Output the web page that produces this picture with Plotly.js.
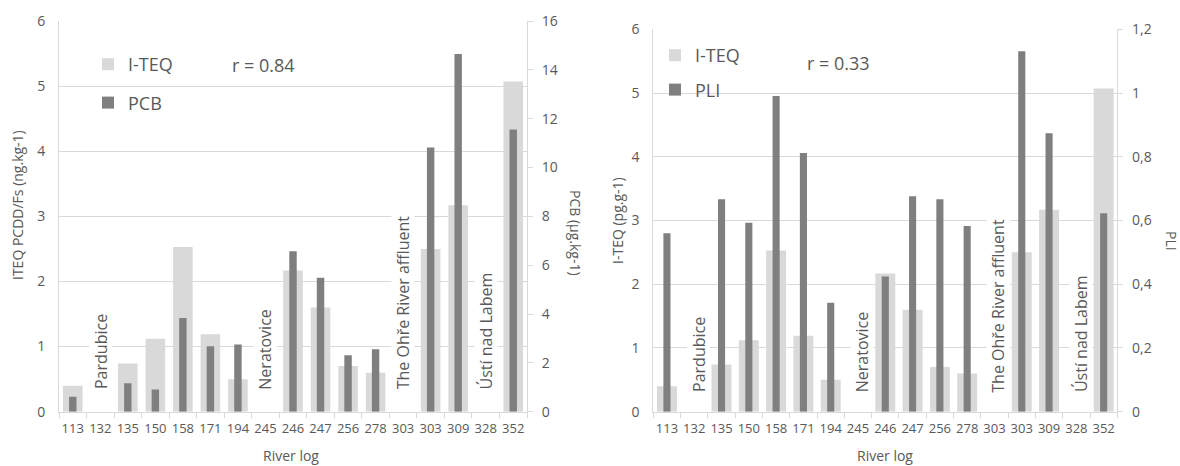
<!DOCTYPE html>
<html><head><meta charset="utf-8">
<script src="https://cdn.plot.ly/plotly-3.0.1.min.js"></script>
<style>html,body{margin:0;padding:0;background:#fff}#chart{width:1180px;height:466px}</style>
</head><body><div id="chart"></div>
<script>
const riverLog = ['113','132','135','150','158','171','194','245','246','247','256','278','303','303','309','328','352'];
const iteq = [0.40,null,0.74,1.12,2.53,1.19,0.50,null,2.17,1.60,0.70,0.60,null,2.50,3.17,null,5.07];
const pcb = [0.61,null,1.16,0.91,3.84,2.68,2.75,null,6.57,5.49,2.31,2.56,null,10.82,14.65,null,11.56];
const pli = [0.56,null,0.667,0.593,0.991,0.812,0.342,null,0.424,0.676,0.667,0.583,null,1.131,0.874,null,0.623];
const siteLabels = ['Pardubice','Neratovice','The Ohře River affluent','Ústí nad Labem'];
const siteIndex = [1,7,12,15];
const rLeft = 'r = 0.84';
const rRight = 'r = 0.33';

const W = 1180, H = 466;
const pos = riverLog.map((_, i) => i);
const bounds = riverLog.map((_, i) => i - 0.5).concat([riverLog.length - 0.5]);
const xr = [-0.5, riverLog.length - 0.5];
const LIGHT = '#d9d9d9', DARK = '#7f7f7f', TXT = '#595959', GRID = '#d9d9d9';
const FONT = 'Open Sans, sans-serif';
const px = v => v / W, py = v => 1 - v / H;

const traces = [
  {type:'bar', x:pos, y:iteq, xaxis:'x', yaxis:'y', width:0.71, marker:{color:LIGHT}, name:'I-TEQ', legend:'legend', legendgroup:'a', hoverinfo:'skip'},
  {type:'bar', x:pos, y:pcb, xaxis:'x2', yaxis:'y2', width:0.27, marker:{color:DARK}, name:'PCB', legend:'legend', legendgroup:'b', hoverinfo:'skip'},
  {type:'bar', x:pos, y:iteq, xaxis:'x3', yaxis:'y3', width:0.73, marker:{color:LIGHT}, name:'I-TEQ', legend:'legend2', legendgroup:'c', hoverinfo:'skip'},
  {type:'bar', x:pos, y:pli, xaxis:'x4', yaxis:'y4', width:0.26, marker:{color:DARK}, name:'PLI', legend:'legend2', legendgroup:'d', hoverinfo:'skip'}
];

const tickF = {family:FONT, size:13, color:TXT};
const yTickF = {family:FONT, size:14, color:TXT};
const baseX = {range:xr, tickmode:'array', tickvals:pos, ticktext:riverLog, ticks:'', showline:true, linecolor:GRID, linewidth:1, showgrid:false, zeroline:false, tickfont:tickF, ticklabelstandoff:5, fixedrange:true};
const overX = {range:xr, tickmode:'array', tickvals:bounds, ticks:'outside', ticklen:5, tickcolor:GRID, showticklabels:false, showgrid:false, zeroline:false, showline:false, fixedrange:true};
const baseY = {range:[0,6], dtick:1, showgrid:true, gridcolor:GRID, showline:true, linecolor:GRID, zeroline:false, ticks:'', tickfont:yTickF, ticklabelstandoff:10, fixedrange:true};
const overY = {side:'right', showgrid:false, showline:true, linecolor:GRID, ticks:'outside', ticklen:5, tickcolor:GRID, zeroline:false, tickfont:yTickF, ticklabelstandoff:6, fixedrange:true};

const yDomL = [(H - 411.7) / H, (H - 21) / H];
const yDomR = [(H - 411.7) / H, (H - 29.3) / H];

const ann = [];
siteLabels.forEach((t, k) => {
  ann.push({xref:'x', yref:'y', x:siteIndex[k], y:0.33, text:t, textangle:-90, xanchor:'center', yanchor:'bottom', showarrow:false, bgcolor:'#ffffff', borderpad:0, font:{family:FONT, size:16, color:TXT}});
  ann.push({xref:'x3', yref:'y3', x:siteIndex[k], y:0.29, xshift:4, text:t, textangle:-90, xanchor:'center', yanchor:'bottom', showarrow:false, bgcolor:'#ffffff', borderpad:0, font:{family:FONT, size:16, color:TXT}});
});
const titleF = {family:FONT, size:14, color:TXT};
const mid = {xref:'paper', yref:'paper', xanchor:'center', yanchor:'middle', showarrow:false};
ann.push(Object.assign({}, mid, {x:px(17), y:py(205), text:'ITEQ PCDD/Fs (ng.kg-1)', textangle:-90, font:titleF}));
ann.push(Object.assign({}, mid, {x:px(576), y:py(233), text:'PCB (µg.kg-1)', textangle:90, font:titleF}));
ann.push(Object.assign({}, mid, {x:px(618), y:py(221), text:'I-TEQ (pg.g-1)', textangle:-90, font:titleF}));
ann.push(Object.assign({}, mid, {x:px(1172), y:py(241), text:'PLI', textangle:90, font:titleF}));
ann.push(Object.assign({}, mid, {x:px(291), y:py(455), text:'River log', font:titleF}));
ann.push(Object.assign({}, mid, {x:px(885), y:py(455), text:'River log', font:titleF}));
ann.push(Object.assign({}, mid, {x:px(263), y:py(65), text:rLeft, font:{family:FONT, size:18, color:TXT}}));
ann.push(Object.assign({}, mid, {x:px(838), y:py(63), text:rRight, font:{family:FONT, size:18, color:TXT}}));

const legF = {family:FONT, size:18, color:TXT};
const layout = {
  width:W, height:H, margin:{l:0, r:0, t:0, b:0}, paper_bgcolor:'#ffffff', plot_bgcolor:'rgba(0,0,0,0)',
  separators:',.', barmode:'overlay', font:{family:FONT, color:TXT},
  xaxis: Object.assign({}, baseX, {domain:[px(59), px(527)], anchor:'y'}),
  xaxis2: Object.assign({}, overX, {overlaying:'x', anchor:'y'}),
  yaxis: Object.assign({}, baseY, {domain:yDomL, anchor:'x'}),
  yaxis2: Object.assign({}, overY, {overlaying:'y', anchor:'x', range:[0,16], dtick:2}),
  xaxis3: Object.assign({}, baseX, {domain:[px(653.3), px(1117.3)], anchor:'y3'}),
  xaxis4: Object.assign({}, overX, {overlaying:'x3', anchor:'y3'}),
  yaxis3: Object.assign({}, baseY, {domain:yDomR, anchor:'x3'}),
  yaxis4: Object.assign({}, overY, {overlaying:'y3', anchor:'x3', range:[0,1.2], dtick:0.2}),
  legend: {x:px(88), y:py(46), xanchor:'left', yanchor:'top', font:legF, bgcolor:'rgba(0,0,0,0)', tracegroupgap:12, traceorder:'grouped', itemclick:false, itemdoubleclick:false},
  legend2: {x:px(655), y:py(37), xanchor:'left', yanchor:'top', font:legF, bgcolor:'rgba(0,0,0,0)', tracegroupgap:8, traceorder:'grouped', itemclick:false, itemdoubleclick:false},
  annotations: ann
};
Plotly.newPlot('chart', traces, layout, {displayModeBar:false, staticPlot:true});
</script>
</body></html>
